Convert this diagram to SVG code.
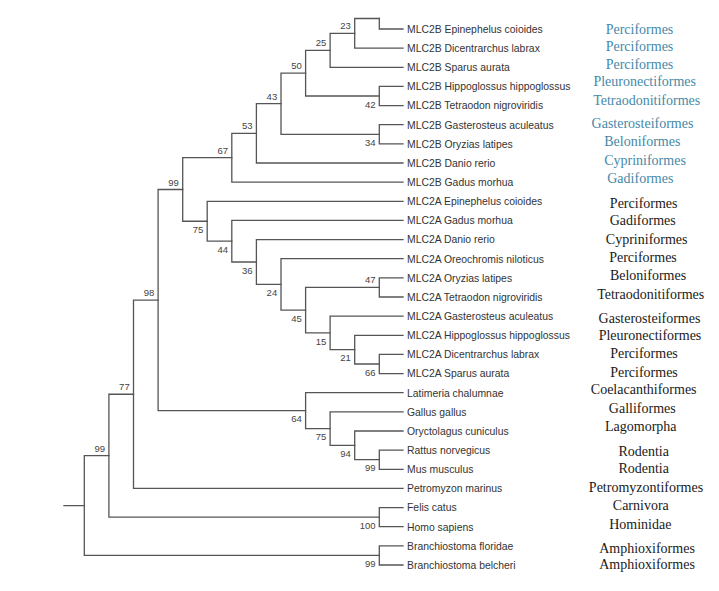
<svg xmlns="http://www.w3.org/2000/svg" width="719" height="591" viewBox="0 0 719 591">
<style>
.ln{fill:none;stroke:#555;stroke-width:1.3;stroke-linecap:square}
.sp{font-family:"Liberation Sans",Arial,sans-serif;font-size:10.4px;fill:#333}
.bs{font-family:"Liberation Sans",Arial,sans-serif;font-size:9.5px;fill:#444;text-anchor:end}
.ord{font-family:"Liberation Serif","Times New Roman",serif;font-size:14px;text-anchor:middle;fill:#1a1a1a}
.blue{fill:#4589a8}
</style>
<rect width="719" height="591" fill="#fff"/>
<g id="connectors" class="ln">
<path d="M379.3,18.5V29H403"/>
<path d="M354.7,18.5V48.1M354.7,18.5H379.3M354.7,48.1H403"/>
<path d="M330.1,33.3V67.3M330.1,33.3H354.7M330.1,67.3H403"/>
<path d="M305.6,50.3V96M305.6,50.3H330.1M305.6,96H379.3"/>
<path d="M379.3,86.4V105.6M379.3,86.4H403M379.3,105.6H403"/>
<path d="M281,73.15V134.3M281,73.15H305.6M281,134.3H379.3"/>
<path d="M379.3,124.7V143.9M379.3,124.7H403M379.3,143.9H403"/>
<path d="M256.4,103.7V163M256.4,103.7H281M256.4,163H403"/>
<path d="M231.8,133.35V182.1M231.8,133.35H256.4M231.8,182.1H403"/>
<path d="M182.7,157.7V221.25M182.7,157.7H231.8M182.7,221.25H207.2"/>
<path d="M207.2,201.3V241.2M207.2,201.3H403M207.2,241.2H231.8"/>
<path d="M231.8,220.4V262M231.8,220.4H403M231.8,262H256.4"/>
<path d="M256.4,239.6V284.45M256.4,239.6H403M256.4,284.45H281"/>
<path d="M281,258.7V310.2M281,258.7H403M281,310.2H305.6"/>
<path d="M305.6,287.45V332.9M305.6,287.45H379.3M305.6,332.9H330.1"/>
<path d="M379.3,277.9V297M379.3,277.9H403M379.3,297H403"/>
<path d="M330.1,316.1V349.65M330.1,316.1H403M330.1,349.65H354.7"/>
<path d="M354.7,335.3V364M354.7,335.3H403M354.7,364H379.3"/>
<path d="M379.3,354.4V373.6M379.3,354.4H403M379.3,373.6H403"/>
<path d="M158.1,189.5V410.65M158.1,189.5H182.7M158.1,410.65H305.6"/>
<path d="M305.6,392.7V428.6M305.6,392.7H403M305.6,428.6H330.1"/>
<path d="M330.1,411.9V445.35M330.1,411.9H403M330.1,445.35H354.7"/>
<path d="M354.7,431V459.7M354.7,431H403M354.7,459.7H379.3"/>
<path d="M379.3,450.1V469.3M379.3,450.1H403M379.3,469.3H403"/>
<path d="M133.5,300.1V488.4M133.5,300.1H158.1M133.5,488.4H403"/>
<path d="M108.9,394.25V517.15M108.9,394.25H133.5M108.9,517.15H379.3"/>
<path d="M379.3,507.6V526.7M379.3,507.6H403M379.3,526.7H403"/>
<path d="M84.3,455.7V555.45M84.3,455.7H108.9M84.3,555.45H379.3M64,505.6H84.3"/>
<path d="M379.3,545.9V565M379.3,545.9H403M379.3,565H403"/>
</g>
<g id="node-23"><text class="bs" x="350.9" y="29.3">23</text></g>
<g id="node-25"><text class="bs" x="326.3" y="46.3">25</text></g>
<g id="node-50"><text class="bs" x="301.8" y="69.2">50</text></g>
<g id="node-42"><text class="bs" x="375.5" y="107.6">42</text></g>
<g id="node-43"><text class="bs" x="277.2" y="99.7">43</text></g>
<g id="node-34"><text class="bs" x="375.5" y="146">34</text></g>
<g id="node-53"><text class="bs" x="252.6" y="129.4">53</text></g>
<g id="node-67"><text class="bs" x="228" y="153.7">67</text></g>
<g id="node-99-mlc2"><text class="bs" x="178.9" y="185.5">99</text></g>
<g id="node-75-mlc2a"><text class="bs" x="203.4" y="232.8">75</text></g>
<g id="node-44"><text class="bs" x="228" y="252.8">44</text></g>
<g id="node-36"><text class="bs" x="252.6" y="273.6">36</text></g>
<g id="node-24"><text class="bs" x="277.2" y="296">24</text></g>
<g id="node-45"><text class="bs" x="301.8" y="321.8">45</text></g>
<g id="node-47"><text class="bs" x="375.5" y="283.4">47</text></g>
<g id="node-15"><text class="bs" x="326.3" y="344.5">15</text></g>
<g id="node-21"><text class="bs" x="350.9" y="361.3">21</text></g>
<g id="node-66"><text class="bs" x="375.5" y="375.6">66</text></g>
<g id="node-98"><text class="bs" x="154.3" y="296.1">98</text></g>
<g id="node-64"><text class="bs" x="301.8" y="422.3">64</text></g>
<g id="node-75-tetrapod"><text class="bs" x="326.3" y="440.2">75</text></g>
<g id="node-94"><text class="bs" x="350.9" y="457">94</text></g>
<g id="node-99-rodent"><text class="bs" x="375.5" y="471.3">99</text></g>
<g id="node-77"><text class="bs" x="129.7" y="390.3">77</text></g>
<g id="node-99-vert"><text class="bs" x="105.1" y="451.7">99</text></g>
<g id="node-100"><text class="bs" x="375.5" y="528.8">100</text></g>
<g id="node-99-amphi"><text class="bs" x="375.5" y="567">99</text></g>
<g id="leaf-1"><text class="sp" x="407" y="32.8">MLC2B Epinephelus coioides</text><text class="ord blue" x="639.5" y="33.5">Perciformes</text></g>
<g id="leaf-2"><text class="sp" x="407" y="51.9">MLC2B Dicentrarchus labrax</text><text class="ord blue" x="639.5" y="51.2">Perciformes</text></g>
<g id="leaf-3"><text class="sp" x="407" y="71.1">MLC2B Sparus aurata</text><text class="ord blue" x="639.5" y="68.5">Perciformes</text></g>
<g id="leaf-4"><text class="sp" x="407" y="90.2">MLC2B Hippoglossus hippoglossus</text><text class="ord blue" x="644.7" y="86.3">Pleuronectiformes</text></g>
<g id="leaf-5"><text class="sp" x="407" y="109.4">MLC2B Tetraodon nigroviridis</text><text class="ord blue" x="646.7" y="104.5">Tetraodonitiformes</text></g>
<g id="leaf-6"><text class="sp" x="407" y="128.5">MLC2B Gasterosteus aculeatus</text><text class="ord blue" x="642.5" y="128">Gasterosteiformes</text></g>
<g id="leaf-7"><text class="sp" x="407" y="147.7">MLC2B Oryzias latipes</text><text class="ord blue" x="642.3" y="146.2">Beloniformes</text></g>
<g id="leaf-8"><text class="sp" x="407" y="166.8">MLC2B Danio rerio</text><text class="ord blue" x="645" y="164.8">Cypriniformes</text></g>
<g id="leaf-9"><text class="sp" x="407" y="185.9">MLC2B Gadus morhua</text><text class="ord blue" x="640.3" y="182.8">Gadiformes</text></g>
<g id="leaf-10"><text class="sp" x="407" y="205.1">MLC2A Epinephelus coioides</text><text class="ord" x="643.7" y="207.5">Perciformes</text></g>
<g id="leaf-11"><text class="sp" x="407" y="224.2">MLC2A Gadus morhua</text><text class="ord" x="642.7" y="225.2">Gadiformes</text></g>
<g id="leaf-12"><text class="sp" x="407" y="243.4">MLC2A Danio rerio</text><text class="ord" x="646.7" y="243.5">Cypriniformes</text></g>
<g id="leaf-13"><text class="sp" x="407" y="262.5">MLC2A Oreochromis niloticus</text><text class="ord" x="643" y="261.8">Perciformes</text></g>
<g id="leaf-14"><text class="sp" x="407" y="281.7">MLC2A Oryzias latipes</text><text class="ord" x="648" y="279.5">Beloniformes</text></g>
<g id="leaf-15"><text class="sp" x="407" y="300.8">MLC2A Tetraodon nigroviridis</text><text class="ord" x="650.7" y="299">Tetraodonitiformes</text></g>
<g id="leaf-16"><text class="sp" x="407" y="319.9">MLC2A Gasterosteus aculeatus</text><text class="ord" x="649.5" y="322.5">Gasterosteiformes</text></g>
<g id="leaf-17"><text class="sp" x="407" y="339.1">MLC2A Hippoglossus hippoglossus</text><text class="ord" x="650" y="340">Pleuronectiformes</text></g>
<g id="leaf-18"><text class="sp" x="407" y="358.2">MLC2A Dicentrarchus labrax</text><text class="ord" x="644" y="357.8">Perciformes</text></g>
<g id="leaf-19"><text class="sp" x="407" y="377.4">MLC2A Sparus aurata</text><text class="ord" x="644" y="377.2">Perciformes</text></g>
<g id="leaf-20"><text class="sp" x="407" y="396.5">Latimeria chalumnae</text><text class="ord" x="643.7" y="393.8">Coelacanthiformes</text></g>
<g id="leaf-21"><text class="sp" x="407" y="415.7">Gallus gallus</text><text class="ord" x="642.3" y="412.8">Galliformes</text></g>
<g id="leaf-22"><text class="sp" x="407" y="434.8">Oryctolagus cuniculus</text><text class="ord" x="640.8" y="431.3">Lagomorpha</text></g>
<g id="leaf-23"><text class="sp" x="407" y="453.9">Rattus norvegicus</text><text class="ord" x="643.7" y="456.2">Rodentia</text></g>
<g id="leaf-24"><text class="sp" x="407" y="473.1">Mus musculus</text><text class="ord" x="643.7" y="472.8">Rodentia</text></g>
<g id="leaf-25"><text class="sp" x="407" y="492.2">Petromyzon marinus</text><text class="ord" x="646" y="491.5">Petromyzontiformes</text></g>
<g id="leaf-26"><text class="sp" x="407" y="511.4">Felis catus</text><text class="ord" x="640.8" y="509.8">Carnivora</text></g>
<g id="leaf-27"><text class="sp" x="407" y="530.5">Homo sapiens</text><text class="ord" x="640.3" y="528.5">Hominidae</text></g>
<g id="leaf-28"><text class="sp" x="407" y="549.7">Branchiostoma floridae</text><text class="ord" x="647" y="552.6">Amphioxiformes</text></g>
<g id="leaf-29"><text class="sp" x="407" y="568.8">Branchiostoma belcheri</text><text class="ord" x="647" y="568.8">Amphioxiformes</text></g>
</svg>
